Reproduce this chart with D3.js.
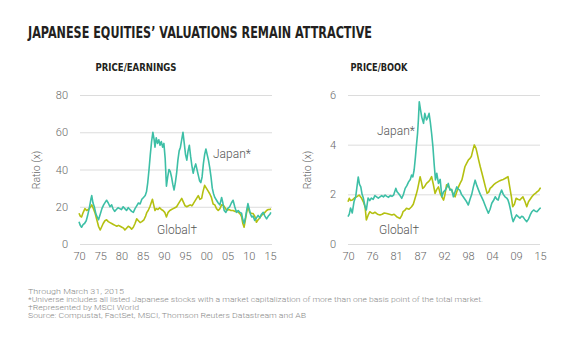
<!DOCTYPE html>
<html><head><meta charset="utf-8">
<script src="https://cdn.jsdelivr.net/npm/d3@7"></script>
<style>
body{margin:0;background:#fff;}
svg{display:block;}
.title{font-family:"Liberation Sans Narrow","DejaVu Sans Condensed","Roboto",sans-serif;font-weight:bold;}
.txt{font-family:"Roboto","Liberation Sans",sans-serif;}
</style></head>
<body>
<svg id="c" width="580" height="357"></svg>
<script>
// ---- DATA ----
const peJapanYears = [1970.0,1970.3,1970.6,1971.0,1971.3,1971.7,1972.0,1972.4,1972.8,1973.0,1973.3,1973.6,1974.0,1974.3,1974.6,1975.0,1975.4,1975.8,1976.2,1976.5,1976.9,1977.3,1977.7,1978.0,1978.4,1978.8,1979.2,1979.6,1980.0,1980.4,1980.8,1981.2,1981.6,1982.0,1982.4,1982.8,1983.2,1983.6,1984.0,1984.4,1984.8,1985.2,1985.6,1985.9,1986.2,1986.5,1986.8,1987.1,1987.4,1987.7,1987.9,1988.2,1988.5,1988.8,1989.1,1989.4,1989.7,1990.0,1990.3,1990.6,1990.9,1991.2,1991.5,1991.8,1992.1,1992.4,1992.7,1993.0,1993.3,1993.6,1993.9,1994.2,1994.5,1994.8,1995.1,1995.4,1995.7,1996.0,1996.3,1996.6,1996.9,1997.2,1997.5,1997.8,1998.1,1998.4,1998.7,1999.0,1999.3,1999.6,1999.9,2000.2,2000.5,2000.8,2001.1,2001.4,2001.7,2002.0,2002.4,2002.8,2003.2,2003.6,2003.9,2004.2,2004.6,2005.0,2005.5,2005.9,2006.3,2006.7,2007.1,2007.5,2007.9,2008.3,2008.6,2008.9,2009.2,2009.5,2009.8,2010.1,2010.4,2010.7,2011.0,2011.4,2011.8,2012.2,2012.6,2013.0,2013.4,2013.8,2014.2,2014.6,2015.0,2015.2];
const peJapan = [12,10,9,10.5,11,12.5,15,19,24,26,22,20,16,14.5,13,16,19,21,22.5,23.5,22,20,21,19,17.5,18.5,19.5,19,18.5,20,19,18,19.5,18.5,17.5,17,19,20.5,22,21.5,24,25,26,28,33,40,48,55,60,56,52,57,54,56,53,55,52,54,46,31,36,40,39,36,32,29,33,38,45,50,52,56,60,54,48,45,50,53,47,42,38,41,43,40,37,34,33,36,43,48,51,48,45,41,36,30,27,25,23.5,22,21,25,22,18,17,19,20,22,23.5,20,17,18,17,16.5,13,11,14,18,21.7,19,16,14.5,15,12.7,14,15.4,14,16,17,15,13.5,15,16,17];
const peGlobalYears = [1970.0,1970.3,1970.6,1971.0,1971.4,1971.8,1972.2,1972.6,1973.0,1973.4,1973.8,1974.2,1974.6,1975.0,1975.3,1975.7,1976.1,1976.5,1976.9,1977.3,1977.7,1978.1,1978.5,1978.9,1979.3,1979.7,1980.1,1980.5,1980.8,1981.2,1981.6,1982.0,1982.4,1982.8,1983.2,1983.6,1984.0,1984.4,1984.8,1985.3,1985.7,1986.0,1986.3,1986.7,1987.0,1987.3,1987.6,1987.9,1988.2,1988.6,1989.0,1989.4,1989.8,1990.2,1990.6,1991.0,1991.4,1991.8,1992.2,1992.6,1993.0,1993.4,1993.8,1994.2,1994.6,1995.0,1995.4,1995.8,1996.2,1996.6,1996.9,1997.3,1997.7,1998.1,1998.5,1998.9,1999.2,1999.6,2000.0,2000.4,2000.8,2001.2,2001.6,2002.0,2002.4,2002.8,2003.2,2003.6,2004.0,2004.4,2004.8,2005.3,2005.8,2006.3,2006.8,2007.2,2007.6,2008.0,2008.3,2008.6,2008.9,2009.2,2009.5,2009.8,2010.2,2010.6,2011.0,2011.4,2011.8,2012.2,2012.6,2013.0,2013.4,2013.8,2014.2,2014.6,2015.0,2015.2];
const peGlobal = [16.5,15,14.5,17,19,18,18.5,19.5,21,19,16.5,13,9.5,7.5,9,11,12.5,13,12,11.5,11,10.5,10,9.5,10,9.5,9,8.5,7.5,8.5,9.5,9,8,9,11,13.5,12.5,11.5,12,13,15,17,18,20,22,24,21,18,19,18.5,19.5,18.5,18,17,14.5,17,18,18.5,19,19.5,20,21.5,23,24.5,22.5,20.5,20,20.5,21,20.5,21.5,23,24.5,26,24,24.5,28,31.5,30,28.5,27,25,21.5,21,19,18,19,21,20.8,19.5,18,18.5,18,18,17.5,17.5,17,16,14.7,11,9,13,17,20,17,16.5,16.4,15,11.7,13,14,15.4,16,17,18,18.5,18.5,19];
const pbJapanYears = [1970.0,1970.3,1970.6,1971.0,1971.4,1971.8,1972.1,1972.4,1972.7,1973.0,1973.3,1973.6,1974.0,1974.3,1974.7,1975.1,1975.5,1975.9,1976.3,1976.7,1977.1,1977.5,1977.9,1978.3,1978.7,1979.1,1979.5,1979.9,1980.3,1980.7,1981.2,1981.5,1981.8,1982.2,1982.6,1983.0,1983.4,1983.8,1984.2,1984.6,1984.9,1985.2,1985.5,1985.8,1986.0,1986.3,1986.5,1986.7,1987.0,1987.3,1987.7,1988.0,1988.4,1988.7,1989.0,1989.3,1989.6,1989.9,1990.2,1990.5,1990.8,1991.2,1991.6,1992.0,1992.4,1992.8,1993.2,1993.5,1993.9,1994.3,1994.7,1995.1,1995.5,1995.9,1996.2,1996.6,1997.0,1997.4,1997.8,1998.2,1998.6,1999.0,1999.4,1999.8,2000.2,2000.6,2001.0,2001.3,2001.7,2002.1,2002.5,2002.9,2003.3,2003.7,2004.1,2004.5,2004.9,2005.2,2005.6,2006.0,2006.4,2006.8,2007.2,2007.5,2007.8,2008.1,2008.4,2008.7,2009.1,2009.5,2009.9,2010.3,2010.7,2011.0,2011.4,2011.9,2012.3,2012.7,2013.1,2013.5,2013.9,2014.3,2014.7,2015.0,2015.2];
const pbJapan = [1.1,1.2,1.45,1.25,1.7,1.9,2.3,2.7,2.4,2.3,2.0,1.85,1.5,1.37,1.85,1.75,1.85,1.8,1.95,1.9,1.85,1.9,1.95,1.9,1.97,1.92,1.88,1.95,1.92,1.97,2.24,2.1,2.04,1.95,1.84,2.0,2.24,2.35,2.5,2.6,2.78,2.7,2.98,3.5,3.9,4.45,5.0,5.73,5.4,5.1,4.86,5.26,5.0,5.1,5.26,4.9,4.45,3.92,3.2,2.58,2.85,2.44,2.6,1.9,2.1,2.17,2.3,2.44,2.17,2.2,1.9,2.1,2.3,2.2,2.17,2.0,1.9,1.8,1.7,1.57,1.8,2.0,2.31,2.57,2.35,2.17,2.0,1.9,1.75,1.57,1.4,1.24,1.4,1.64,1.75,1.9,1.8,1.77,2.0,2.17,2.0,1.9,1.85,1.77,1.6,1.37,1.1,0.9,1.05,1.17,1.1,1.04,1.12,1.1,1.0,0.9,1.0,1.17,1.3,1.37,1.32,1.3,1.38,1.44,1.45];
const pbGlobalYears = [1970.0,1970.3,1970.6,1971.0,1971.5,1972.0,1972.6,1973.2,1973.6,1974.0,1974.3,1974.7,1975.1,1975.5,1975.9,1976.3,1976.9,1977.5,1978.0,1978.5,1979.1,1979.7,1980.3,1980.8,1981.4,1982.2,1982.6,1982.9,1983.3,1983.7,1984.3,1984.9,1985.3,1985.6,1986.0,1986.3,1986.6,1986.9,1987.2,1987.5,1987.9,1988.4,1988.8,1989.2,1989.6,1990.0,1990.4,1990.8,1991.2,1991.6,1992.0,1992.4,1992.7,1993.1,1993.6,1994.0,1994.3,1994.7,1995.1,1995.5,1995.9,1996.3,1996.7,1997.0,1997.4,1997.8,1998.2,1998.6,1998.9,1999.3,1999.6,2000.0,2000.2,2000.6,2001.0,2001.4,2001.8,2002.2,2002.6,2003.0,2003.3,2003.7,2004.1,2004.6,2005.2,2005.6,2006.0,2006.4,2006.8,2007.2,2007.5,2007.9,2008.3,2008.6,2009.0,2009.4,2009.8,2010.3,2010.7,2011.0,2011.5,2011.9,2012.3,2012.7,2013.1,2013.6,2014.0,2014.3,2014.7,2015.0,2015.2];
const pbGlobal = [1.7,1.84,1.75,1.77,1.85,1.9,1.97,1.84,1.7,1.5,0.97,1.15,1.3,1.25,1.23,1.28,1.2,1.17,1.2,1.25,1.23,1.2,1.17,1.2,1.1,1.03,1.15,1.3,1.35,1.44,1.4,1.5,1.6,1.77,2.0,2.2,2.45,2.71,2.5,2.24,2.3,2.44,2.5,2.58,2.71,2.4,2.04,2.2,2.3,2.04,1.9,1.77,1.97,2.38,2.3,2.2,2.17,2.0,1.9,2.1,2.3,2.45,2.58,2.8,3.11,3.25,3.38,3.45,3.52,3.8,3.99,3.85,3.71,3.4,3.11,2.85,2.58,2.3,2.04,2.1,2.24,2.3,2.38,2.45,2.51,2.55,2.58,2.6,2.64,2.68,2.71,2.3,1.9,1.5,1.6,1.84,1.8,1.77,1.85,1.9,1.7,1.5,1.7,1.8,1.9,2.0,2.05,2.1,2.15,2.24,2.25];
const peYTicks = [0,20,40,60,80];
const pbYTicks = [0,2,4,6];
const peXLabels = ["70","75","80","85","90","95","00","05","10","15"];
const pbXLabels = ["70","76","81","87","92","98","04","09","15"];
const titleText = "JAPANESE EQUITIES\u2019 VALUATIONS REMAIN ATTRACTIVE";
const footnotes = [
  "Through March 31, 2015",
  "*Universe includes all listed Japanese stocks with a market capitalization of more than one basis point of the total market.",
  "\u2020Represented by MSCI World",
  "Source: Compustat, FactSet, MSCI, Thomson Reuters Datastream and AB"
];

// ---- DRAW ----
const JAPAN = "#3dbfa6", GLOBAL = "#b4c011", GRID = "#dcdcdc", TICK = "#666";
const svg = d3.select("#c");

svg.append("text").attr("class","title").attr("x",28).attr("y",38)
  .attr("font-size",15).attr("fill","#231f20")
  .attr("textLength",344).attr("lengthAdjust","spacingAndGlyphs").text(titleText);

function panel(opt){
  const g = svg.append("g");
  const x = d3.scaleLinear().domain([1970,2015]).range(opt.xr);
  const y = d3.scaleLinear().domain(opt.yd).range([244,95]);
  g.append("text").attr("class","title").attr("x",opt.tx).attr("y",71)
    .attr("text-anchor","middle").attr("font-size",10.5).attr("fill","#231f20")
    .attr("textLength",opt.tw).attr("lengthAdjust","spacingAndGlyphs").text(opt.title);
  const yAxis = d3.axisLeft(y).tickValues(opt.yt).tickFormat(d3.format("d"))
    .tickSize(-(opt.gr[1]-opt.gr[0])).tickPadding(opt.gr[0]-opt.ylab);
  const ya = g.append("g").attr("transform",`translate(${opt.gr[0]},0)`).call(yAxis);
  ya.select(".domain").remove();
  ya.selectAll("line").attr("stroke",GRID).attr("stroke-width",1);
  ya.selectAll("text").attr("class","txt").attr("fill",TICK).attr("font-size",11).attr("font-weight",300);
  const xAxis = d3.axisBottom(x).tickValues(opt.xt).tickFormat((d,i)=>opt.xl[i]).tickSize(0).tickPadding(8);
  const xa = g.append("g").attr("transform","translate(0,244)").call(xAxis);
  xa.select(".domain").remove();
  xa.selectAll("text").attr("class","txt").attr("fill",TICK).attr("font-size",11).attr("font-weight",300);
  g.append("text").attr("class","txt").attr("transform",`translate(${opt.rx},170) rotate(-90)`)
    .attr("text-anchor","middle").attr("font-size",10.5).attr("font-weight",300).attr("fill",TICK).text("Ratio (x)");
  const line = d3.line().x(d=>x(d[0])).y(d=>y(d[1]));
  const gl = opt.gY.map((t,i)=>[t,opt.gV[i]]);
  const jp = opt.jY.map((t,i)=>[t,opt.jV[i]]);
  g.append("path").datum(gl).attr("d",line).attr("fill","none").attr("stroke",GLOBAL).attr("stroke-width",1.6).attr("stroke-linejoin","round");
  g.append("path").datum(jp).attr("d",line).attr("fill","none").attr("stroke",JAPAN).attr("stroke-width",1.6).attr("stroke-linejoin","round");
  g.append("text").attr("class","txt").attr("x",opt.jl[0]).attr("y",opt.jl[1]).attr("font-size",12).attr("font-weight",300).attr("fill","#555").text("Japan*");
  g.append("text").attr("class","txt").attr("x",opt.gl[0]).attr("y",opt.gl[1]).attr("font-size",12).attr("font-weight",300).attr("fill","#555").text("Global\u2020");
}

panel({xr:[79,270], yd:[0,80], yt:peYTicks, gr:[80,272], ylab:68, rx:40,
  xt:d3.range(0,10).map(i=>1970+5*i), xl:peXLabels,
  title:"PRICE/EARNINGS", tx:136, tw:81,
  jY:peJapanYears, jV:peJapan, gY:peGlobalYears, gV:peGlobal,
  jl:[213,158], gl:[157,234]});
panel({xr:[348,540], yd:[0,6], yt:pbYTicks, gr:[348,540], ylab:336, rx:311,
  xt:d3.range(0,9).map(i=>1970+45/8*i), xl:pbXLabels,
  title:"PRICE/BOOK", tx:379, tw:57,
  jY:pbJapanYears, jV:pbJapan, gY:pbGlobalYears, gV:pbGlobal,
  jl:[377,135], gl:[379,234]});

const fw = [96, 455, 111, 278];
footnotes.forEach((t,i)=>{
  svg.append("text").attr("class","txt").attr("x",28).attr("y",294+i*8.1)
    .attr("font-size",7.6).attr("font-weight",300).attr("fill","#888")
    .attr("textLength",fw[i]).attr("lengthAdjust","spacingAndGlyphs").text(t);
});
</script>
</body></html>
